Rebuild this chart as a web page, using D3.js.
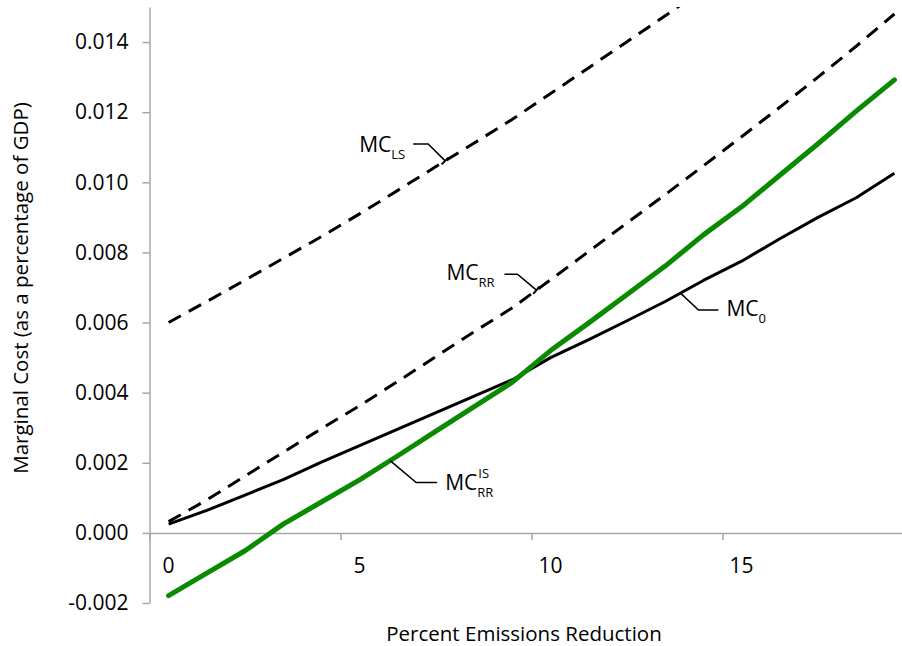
<!DOCTYPE html>
<html>
<head>
<meta charset="utf-8">
<script src="https://cdn.jsdelivr.net/npm/d3@7"></script>
<style>
  html, body { margin: 0; padding: 0; background: #fff; }
  svg { display: block; font-family: "Open Sans", "Liberation Sans", sans-serif; }
</style>
</head>
<body>
<svg id="chart" width="902" height="646"></svg>
<script>
// ---- data ----
const categories = d3.range(0, 20); // percent emissions reduction
const mc0   = [0.00025, 0.00064, 0.00108, 0.00152, 0.00202, 0.00249, 0.00296, 0.00343, 0.00390, 0.00437,
               0.00500, 0.00551, 0.00605, 0.00660, 0.00720, 0.00775, 0.00839, 0.00900, 0.00956, 0.01026];
const mcLS  = [0.00600, 0.00660, 0.00721, 0.00783, 0.00845, 0.00910, 0.00977, 0.01045, 0.01112, 0.01180,
               0.01253, 0.01327, 0.01401, 0.01475, 0.01550, 0.01630, 0.01710, 0.01790, 0.01870, 0.01950];
const mcRR  = [0.00032, 0.00094, 0.00162, 0.00230, 0.00297, 0.00363, 0.00432, 0.00503, 0.00574, 0.00642,
               0.00722, 0.00803, 0.00884, 0.00965, 0.01047, 0.01130, 0.01214, 0.01300, 0.01388, 0.01480];
const mcRRIS= [-0.00179, -0.00115, -0.00051, 0.00025, 0.00088, 0.00151, 0.00220, 0.00290, 0.00360, 0.00430,
               0.00520, 0.00599, 0.00680, 0.00761, 0.00850, 0.00930, 0.01020, 0.01110, 0.01203, 0.01292];
const yTicks = [-0.002, 0.000, 0.002, 0.004, 0.006, 0.008, 0.010, 0.012, 0.014];
const yTickLabels = ["-0.002", "0.000", "0.002", "0.004", "0.006", "0.008", "0.010", "0.012", "0.014"];
const xLabelValues = [0, 5, 10, 15];
const xLabelTexts = ["0", "5", "10", "15"];
const xTitle = "Percent Emissions Reduction";
const yTitle = "Marginal Cost (as a percentage of GDP)";

// ---- layout ----
const svg = d3.select("#chart");
const x0 = 149.5, catW = 38.2;
const x = d3.scaleLinear().domain([-0.5, 19.5]).range([x0, x0 + 20 * catW]);
const y = d3.scaleLinear().domain([-0.002, 0.015]).range([603, 7]);
const axisColor = "#a6a6a6";

svg.append("defs").append("clipPath").attr("id", "plot")
  .append("rect").attr("x", x(-0.5)).attr("y", y(0.015))
  .attr("width", x(19.5) - x(-0.5)).attr("height", y(-0.002) - y(0.015));

// y axis
const yAxis = svg.append("g").attr("transform", `translate(${x(-0.5)},0)`)
  .call(d3.axisLeft(y).tickValues(yTicks).tickFormat((d, i) => yTickLabels[i])
        .tickSize(7).tickSizeOuter(0).tickPadding(14));
yAxis.select(".domain").attr("stroke", axisColor).attr("stroke-width", 1.5);
yAxis.selectAll(".tick line").attr("stroke", axisColor).attr("stroke-width", 1.5);
yAxis.selectAll(".tick text").attr("fill", "#000").style("font-size", "21px")
  .style("font-family", "'Open Sans', sans-serif");

// x axis (at y = 0)
const xAxis = svg.append("g").attr("transform", `translate(0,${y(0)})`)
  .call(d3.axisBottom(x).tickValues([-0.5, 4.5, 9.5, 14.5, 19.5]).tickFormat("")
        .tickSize(7).tickSizeOuter(0));
xAxis.select(".domain").attr("stroke", axisColor).attr("stroke-width", 1.5);
xAxis.selectAll(".tick line").attr("stroke", axisColor).attr("stroke-width", 1.5);

svg.append("g").selectAll("text").data(xLabelValues).join("text")
  .attr("x", d => x(d)).attr("y", y(0) + 40)
  .attr("text-anchor", "middle").style("font-size", "21px")
  .text((d, i) => xLabelTexts[i]);

// titles
svg.append("text").attr("x", 524).attr("y", 641).attr("text-anchor", "middle")
  .style("font-size", "20.5px").text(xTitle);
svg.append("text").attr("transform", "translate(28,288) rotate(-90)").attr("text-anchor", "middle")
  .style("font-size", "20.5px").text(yTitle);

// lines
const line = d3.line().x((d, i) => x(categories[i])).y(d => y(d));
const plot = svg.append("g").attr("clip-path", "url(#plot)");
plot.append("path").datum(mcLS).attr("d", line).attr("fill", "none")
  .attr("stroke", "#000").attr("stroke-width", 3).attr("stroke-dasharray", "14,9");
plot.append("path").datum(mcRR).attr("d", line).attr("fill", "none")
  .attr("stroke", "#000").attr("stroke-width", 3).attr("stroke-dasharray", "14,9");
plot.append("path").datum(mc0).attr("d", line).attr("fill", "none")
  .attr("stroke", "#000").attr("stroke-width", 3).attr("stroke-linejoin", "round");
plot.append("path").datum(mcRRIS).attr("d", line).attr("fill", "none")
  .attr("stroke", "#0a8a00").attr("stroke-width", 5).attr("stroke-linejoin", "round")
  .attr("stroke-linecap", "round");

// annotation helpers
function at(series, c) {
  const i = Math.floor(c), f = c - i;
  const v = series[i] + (series[Math.min(i + 1, series.length - 1)] - series[i]) * f;
  return [x(c), y(v)];
}
const ann = svg.append("g");
function leader(p, pts, tick) {
  const path = d3.path();
  path.moveTo(p[0] + pts[1][0], p[1] + pts[1][1]);
  path.lineTo(p[0] + pts[0][0], p[1] + pts[0][1]);
  path.lineTo(p[0], p[1]);
  ann.append("path").attr("d", path.toString()).attr("fill", "none")
    .attr("stroke", "#000").attr("stroke-width", 1.5);
  if (tick) {
    const dx = -pts[0][0], dy = -pts[0][1], L = Math.hypot(dx, dy);
    const nx = -dy / L * 5, ny = dx / L * 5;
    ann.append("line").attr("x1", p[0] - nx).attr("y1", p[1] - ny)
      .attr("x2", p[0] + nx).attr("y2", p[1] + ny)
      .attr("stroke", "#000").attr("stroke-width", 2);
  }
}
function label(px, py, sub, sup) {
  const t = ann.append("text").attr("x", px).attr("y", py).style("font-size", "21px").text("MC");
  const w = t.node().getComputedTextLength();
  if (sub) ann.append("text").attr("x", px + w).attr("y", py + 7).style("font-size", "13px").text(sub);
  if (sup) ann.append("text").attr("x", px + w + 1).attr("y", py - 12).style("font-size", "13px").text(sup);
}

// MC_LS
let p = at(mcLS, 7.24);
leader(p, [[-17, -17], [-32, -17]], true);
label(p[0] - 86, p[1] - 9, "LS");
// MC_RR
p = at(mcRR, 9.63);
leader(p, [[-19, -16], [-32, -16]], true);
label(p[0] - 90, p[1] - 10, "RR");
// MC_0
p = at(mc0, 13.4);
leader(p, [[18, 17], [38, 17]], false);
label(p[0] + 46, p[1] + 23, "0");
// MC_RR^IS
p = at(mcRRIS, 5.8);
leader(p, [[26, 22], [47, 22]], false);
label(p[0] + 55, p[1] + 29, "RR", "IS");
</script>
</body>
</html>
